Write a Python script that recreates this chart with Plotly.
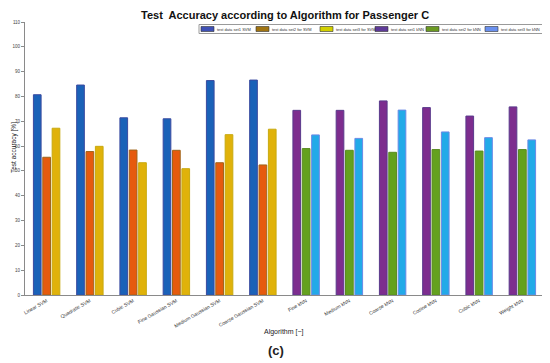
import plotly.graph_objects as go

categories = ["Linear SVM", "Quadratic SVM", "Cubic SVM", "Fine Gaussian SVM",
              "Medium Gaussian SVM", "Coarse Gaussian SVM", "Fine kNN", "Medium kNN",
              "Coarse kNN", "Cosine kNN", "Cubic kNN", "Weight kNN"]
svm_cats = categories[:6]
knn_cats = categories[6:]

svm_set1 = [80.7, 84.6, 71.4, 71.0, 86.4, 86.6]
svm_set2 = [55.5, 57.8, 58.4, 58.3, 53.3, 52.4]
svm_set3 = [67.2, 59.9, 53.3, 50.9, 64.6, 66.8]
knn_set1 = [74.4, 74.4, 78.2, 75.5, 72.1, 75.8]
knn_set2 = [59.0, 58.3, 57.5, 58.6, 58.0, 58.6]
knn_set3 = [64.5, 63.1, 74.5, 65.7, 63.4, 62.5]

series_names = ["test data set1 SVM", "test data set2 for SVM", "test data set3 for SVM",
                "test data set1 kNN", "test data set2 for kNN", "test data set3 for kNN"]

face_colors = ["#1a62b8", "#e65a0e", "#e0b20a", "#7d2d8e", "#64a11e", "#22aae8"]
edge_colors = ["#3a4aa0", "#a0651a", "#c8aa10", "#5a3a8c", "#5a8c22", "#6a8ae6"]
legend_colors = ["#3f51b5", "#a07412", "#d2d000", "#5e3a98", "#6b9a22", "#6a90ee"]

fig = go.Figure()
data = [(svm_cats, svm_set1), (svm_cats, svm_set2), (svm_cats, svm_set3),
        (knn_cats, knn_set1), (knn_cats, knn_set2), (knn_cats, knn_set3)]
for i, ((xs, ys), name) in enumerate(zip(data, series_names)):
    fig.add_trace(go.Bar(
        x=xs, y=ys, name=name, offsetgroup=str(i % 3 + 1),
        marker=dict(color=face_colors[i], line=dict(color=edge_colors[i], width=1)),
        showlegend=False,
    ))

# plot-area edges in window pixels (page body adds an 8px offset)
OFF = 8
px0, px1 = 25, 544
py0, py1 = 22, 295
def fx(px):
    return (px - px0) / (px1 - px0)
def fy(py):
    return (py1 - py) / (py1 - py0)

legend_x = [200, 255, 319, 374, 425, 484]
shapes = [dict(type="rect", xref="paper", yref="paper",
               x0=fx(199), x1=fx(543), y0=fy(33.5), y1=fy(24.5),
               line=dict(color="#9a9a9a", width=1), fillcolor="white", layer="above")]
annotations = []
for lx, col, name in zip(legend_x, legend_colors, series_names):
    shapes.append(dict(type="rect", xref="paper", yref="paper",
                       x0=fx(lx + 1), x1=fx(lx + 14), y0=fy(31.5), y1=fy(26.5),
                       line=dict(color="#333", width=0.6), fillcolor=col, layer="above"))
    annotations.append(dict(x=fx(lx + 15), y=fy(29), xref="paper", yref="paper",
                            text=name, showarrow=False, xanchor="left", yanchor="middle",
                            font=dict(size=4, color="#333", family="Liberation Sans")))

annotations.append(dict(x=fx(284), y=fy(332), xref="paper", yref="paper", text="Algorithm [\u2212]",
                        showarrow=False, xanchor="center", yanchor="middle",
                        font=dict(size=7, color="#222", family="Liberation Sans")))
annotations.append(dict(x=fx(276), y=fy(350), xref="paper", yref="paper", text="<b>(c)</b>",
                        showarrow=False, xanchor="center", yanchor="middle",
                        font=dict(size=13, color="#222", family="Liberation Sans")))
annotations.append(dict(x=fx(285), y=fy(15), xref="paper", yref="paper",
                        text="<b>Test  Accuracy according to Algorithm for Passenger C</b>",
                        showarrow=False, xanchor="center", yanchor="middle",
                        font=dict(size=11, color="#111", family="Liberation Sans")))
annotations.append(dict(x=fx(8), y=fy(148), xref="paper", yref="paper",
                        text="Test accuracy [%]", textangle=-90,
                        showarrow=False, xanchor="left", yanchor="middle",
                        font=dict(size=6.5, color="#222", family="Liberation Sans")))

W, H = 550 - OFF, 363 - OFF
fig.update_layout(
    width=W, height=H,
    margin=dict(l=px0 - OFF, r=W - (px1 - OFF), t=py0 - OFF, b=H - (py1 - OFF)),
    paper_bgcolor="white", plot_bgcolor="white",
    barmode="group", bargap=0.35, bargroupgap=0.18,
    font=dict(family="Liberation Sans", color="#333"),
    shapes=shapes, annotations=annotations,
    showlegend=False,
)
fig.update_xaxes(
    type="category", categoryorder="array", categoryarray=categories,
    tickangle=-30, tickfont=dict(size=5, color="#333"),
    showline=True, linecolor="#8a8a8a", linewidth=1,
    showgrid=False, ticks="", zeroline=False,
)
fig.update_yaxes(
    range=[0, 110], tickvals=list(range(0, 111, 10)),
    tickfont=dict(size=4.5, color="#444"),
    showline=True, linecolor="#8a8a8a", linewidth=1,
    ticks="outside", ticklen=3, tickcolor="#8a8a8a",
    showgrid=False, zeroline=False,
)

fig.write_html("out.html")
